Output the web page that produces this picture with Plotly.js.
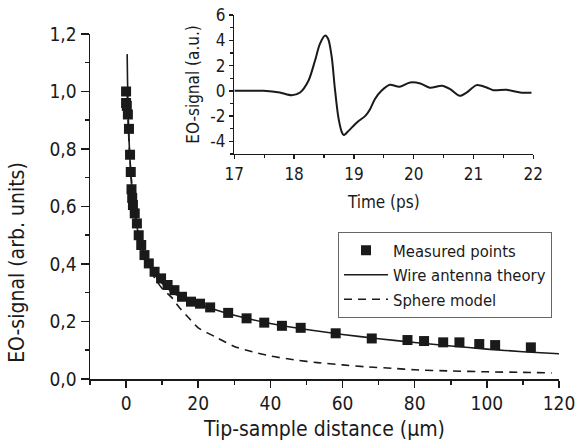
<!DOCTYPE html>
<html>
<head>
<meta charset="utf-8">
<script src="https://cdn.plot.ly/plotly-3.0.1.min.js"></script>
<style>html,body{margin:0;padding:0;background:#fff;}#chart{width:577px;height:445px;}</style>
</head>
<body>
<div id="chart"></div>
<script>
// Measured points (tip-sample distance in µm, EO-signal arb. units)
var measuredX = [0.0, 0.0, 0.2, 0.5, 0.8, 1.1, 1.3, 1.5, 1.7, 1.9, 2.4, 3.0, 3.5, 4.2, 5.1, 6.3, 7.9, 9.7, 11.5, 13.4, 15.5, 18.0, 20.5, 23.3, 28.3, 33.4, 38.3, 43.2, 48.4, 58.1, 68.1, 78.0, 82.6, 87.9, 92.4, 97.9, 102.3, 112.2];
var measuredY = [1.00, 0.96, 0.95, 0.92, 0.87, 0.78, 0.72, 0.66, 0.63, 0.605, 0.576, 0.541, 0.50, 0.466, 0.431, 0.402, 0.373, 0.35, 0.327, 0.309, 0.286, 0.269, 0.262, 0.249, 0.230, 0.211, 0.196, 0.185, 0.178, 0.159, 0.141, 0.1355, 0.132, 0.1275, 0.1275, 0.1216, 0.118, 0.110];

// Wire antenna theory curve
var wireX = [0.3, 0.4, 0.6, 0.8, 1.0, 1.5, 2, 3, 4, 5, 6, 8, 10, 13, 16, 20, 25, 30, 40, 50, 60, 70, 80, 90, 100, 110, 120];
var wireY = [1.13, 1.04, 0.92, 0.84, 0.78, 0.68, 0.61, 0.53, 0.475, 0.435, 0.405, 0.362, 0.332, 0.300, 0.280, 0.260, 0.240, 0.222, 0.193, 0.172, 0.155, 0.140, 0.127, 0.115, 0.104, 0.095, 0.088];

// Sphere model curve
var sphereX = [0.3, 0.6, 1, 1.5, 2, 3, 4, 5, 6, 8, 10, 12.7, 15, 17.2, 20, 25, 30, 35, 40, 47, 53, 60, 66, 74, 80, 90, 100, 110, 118];
var sphereY = [1.00, 0.88, 0.78, 0.69, 0.63, 0.54, 0.48, 0.435, 0.40, 0.35, 0.315, 0.283, 0.245, 0.215, 0.178, 0.145, 0.113, 0.095, 0.080, 0.066, 0.057, 0.049, 0.043, 0.037, 0.032, 0.028, 0.025, 0.023, 0.021];

// Inset: EO-signal transient
var timePs = [17.0, 17.49, 17.76, 17.96, 18.10, 18.24, 18.35, 18.43, 18.52, 18.57, 18.63, 18.68, 18.74, 18.80, 18.83, 18.91, 19.05, 19.19, 19.27, 19.35, 19.46, 19.60, 19.76, 19.94, 20.11, 20.27, 20.47, 20.61, 20.77, 20.89, 21.05, 21.22, 21.33, 21.55, 21.78, 21.97];
var eoSignal = [0.0, 0.0, -0.13, -0.35, -0.13, 0.8, 2.4, 3.7, 4.37, 4.1, 2.65, 0.26, -2.1, -3.3, -3.5, -3.17, -2.5, -1.98, -1.45, -0.66, 0.0, 0.48, 0.32, 0.66, 0.58, 0.24, 0.40, 0.13, -0.40, -0.13, 0.45, 0.26, 0.05, 0.08, -0.13, -0.16];

// Tick labels
var mainXTicks = [0, 20, 40, 60, 80, 100, 120];
var mainXLabels = ["0", "20", "40", "60", "80", "100", "120"];
var mainYTicks = [0, 0.2, 0.4, 0.6, 0.8, 1.0, 1.2];
var mainYLabels = ["0,0", "0,2", "0,4", "0,6", "0,8", "1,0", "1,2"];
var insetXTicks = [17, 18, 19, 20, 21, 22];
var insetXLabels = ["17", "18", "19", "20", "21", "22"];
var insetYTicks = [-4, -2, 0, 2, 4, 6];
var insetYLabels = ["-4", "-2", "0", "2", "4", "6"];

var FONT = "'DejaVu Sans Condensed', 'DejaVu Sans', sans-serif";
var INK = "#1a1a1a";

var traces = [
  {x: measuredX, y: measuredY, type: 'scatter', mode: 'markers', name: 'Measured points',
   marker: {symbol: 'square', size: 10, color: INK}, xaxis: 'x', yaxis: 'y'},
  {x: wireX, y: wireY, type: 'scatter', mode: 'lines', name: 'Wire antenna theory',
   line: {color: INK, width: 1.6, shape: 'spline', smoothing: 0.6}, xaxis: 'x', yaxis: 'y'},
  {x: sphereX, y: sphereY, type: 'scatter', mode: 'lines', name: 'Sphere model',
   line: {color: INK, width: 1.6, dash: '8px,6px', shape: 'spline', smoothing: 0.6}, xaxis: 'x', yaxis: 'y'},
  {x: timePs, y: eoSignal, type: 'scatter', mode: 'lines', showlegend: false,
   line: {color: INK, width: 2, shape: 'spline', smoothing: 0.8}, xaxis: 'x2', yaxis: 'y2'}
];

function axisBase(extra) {
  var a = {showline: true, linecolor: INK, linewidth: 1.5, ticks: 'outside', tickcolor: INK,
           tickwidth: 1.5, showgrid: false, zeroline: false, tickmode: 'array',
           tickfont: {family: FONT, size: 19, color: INK}};
  for (var k in extra) a[k] = extra[k];
  return a;
}

var layout = {
  width: 577, height: 445,
  margin: {l: 90, r: 18, t: 10, b: 66},
  paper_bgcolor: '#fff', plot_bgcolor: 'rgba(0,0,0,0)',
  font: {family: FONT, color: INK},
  showlegend: true,
  legend: {x: 0.5288, y: 0.398, xanchor: 'left', yanchor: 'top', bgcolor: '#fff',
           bordercolor: '#666', borderwidth: 1, font: {family: FONT, size: 16.5, color: INK},
           itemwidth: 44, tracegroupgap: 0},
  xaxis: axisBase({domain: [0, 1], range: [-10, 120], anchor: 'y',
    tickvals: mainXTicks, ticktext: mainXLabels, ticklen: 7,
    minor: {tickvals: [-10, 10, 30, 50, 70, 90, 110], ticklen: 4, tickwidth: 1.5, tickcolor: INK, ticks: 'outside'},
    title: {text: 'Tip-sample distance (\u03bcm)', font: {family: FONT, size: 21, color: INK}, standoff: 8}}),
  yaxis: axisBase({domain: [0, 0.935], range: [0, 1.2], anchor: 'x',
    tickvals: mainYTicks, ticktext: mainYLabels, ticklen: 8,
    minor: {tickvals: [0.1, 0.3, 0.5, 0.7, 0.9, 1.1], ticklen: 4, tickwidth: 1.5, tickcolor: INK, ticks: 'outside'}}),
  xaxis2: axisBase({domain: [0.3077, 0.9452], range: [17, 22], anchor: 'y2',
    tickvals: insetXTicks, ticktext: insetXLabels, ticklen: 4,
    tickfont: {family: FONT, size: 17, color: INK},
    minor: {tickvals: [17.5, 18.5, 19.5, 20.5, 21.5], ticklen: 2.5, tickwidth: 1.2, tickcolor: INK, ticks: 'outside'},
    title: {text: 'Time (ps)', font: {family: FONT, size: 17, color: INK}, standoff: 13}}),
  yaxis2: axisBase({domain: [0.6098, 0.9864], range: [-5, 6], anchor: 'x2',
    tickvals: insetYTicks, ticktext: insetYLabels, ticklen: 4,
    tickfont: {family: FONT, size: 17, color: INK},
    minor: {tickvals: [-5, -3, -1, 1, 3, 5], ticklen: 2.5, tickwidth: 1.2, tickcolor: INK, ticks: 'outside'},
    title: {text: 'EO-signal (a.u.)', font: {family: FONT, size: 17, color: INK}, standoff: 6}}),
  annotations: [
    {text: 'EO-signal (arb. units)', xref: 'paper', yref: 'paper', x: -0.156, y: 0.317,
     xanchor: 'center', yanchor: 'middle', textangle: -90, showarrow: false,
     font: {family: FONT, size: 21, color: INK}}
  ]
};

Plotly.newPlot('chart', traces, layout, {displayModeBar: false, staticPlot: true});
</script>
</body>
</html>
